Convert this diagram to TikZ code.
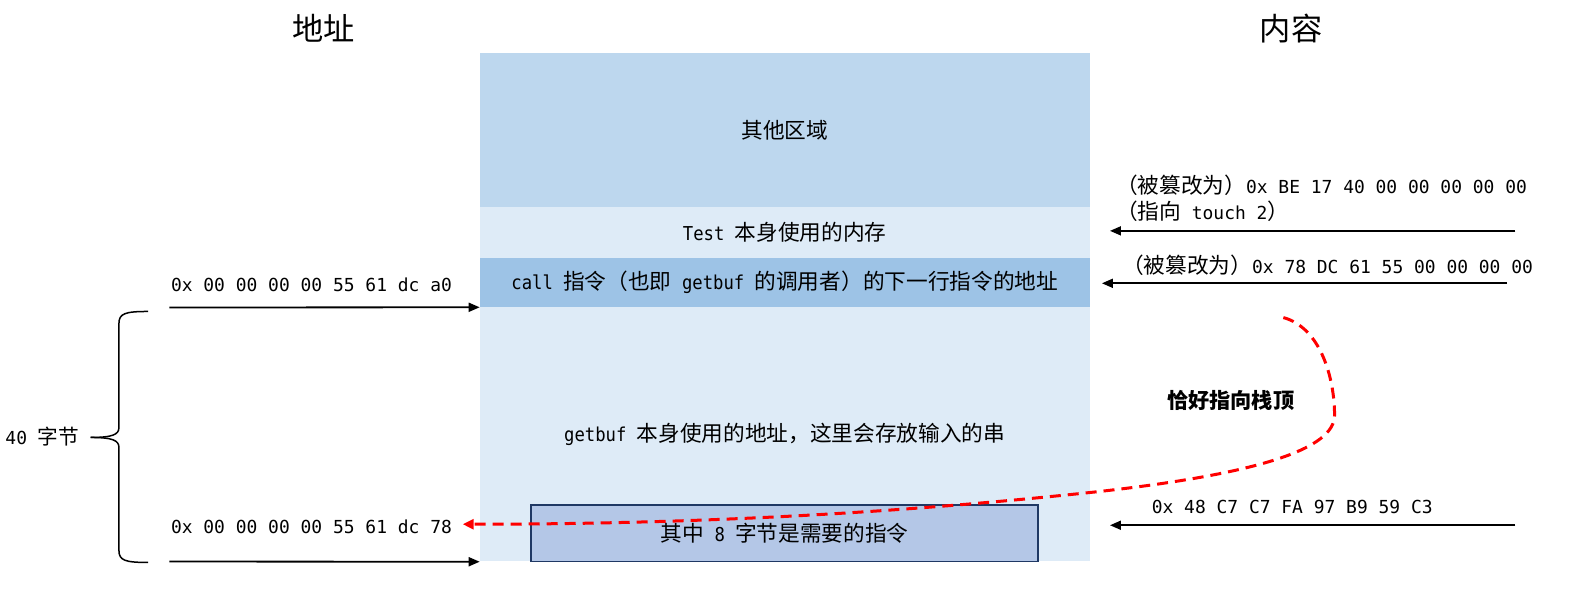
\documentclass[tikz,border=0pt]{standalone}
\usepackage{fontspec}
\setmainfont{DejaVu Sans Mono}
\newfontfamily\cjk{Noto Sans CJK SC}
\newfontfamily\cmono[FakeStretch=0.9]{DejaVu Sans Mono}
\usetikzlibrary{arrows.meta}
\newcommand\CC[1]{{\cjk\fontsize{21.5}{24}\selectfont #1}}
\definecolor{cA}{HTML}{BDD7EE}
\definecolor{cB}{HTML}{DEEBF7}
\definecolor{cC}{HTML}{9DC3E6}
\definecolor{cD}{HTML}{B4C7E7}
\definecolor{cE}{HTML}{1F3864}
\tikzset{
  region/.style={draw=none, minimum width=605pt, inner sep=0pt, font=\cmono\fontsize{19}{22}\selectfont},
  arr/.style={line width=1.8pt, -{Triangle[length=11pt,width=9pt]}},
  lab/.style={inner sep=0pt, font=\fontsize{17.8}{21}\selectfont},
  ttl/.style={inner sep=0pt, font=\cjk\fontsize{31}{34}\selectfont},
  redarr/.style={red, line width=3pt, dash pattern=on 11pt off 7pt, -{Triangle[length=11pt,width=10pt]}}
}
\begin{document}%
\begin{tikzpicture}[x=1pt,y=-1pt,scale=1.008,every node/.append style={transform shape}]%
\useasboundingbox[fill=white] (0,0) rectangle (1568.5,595.24);
% titles
\node[ttl] (t1) at (321,28) {地址};
\node[ttl] (t2) at (1281,28) {内容};
% memory regions
\node[region, fill=cA, minimum height=152pt] (r1) at (778.5,129) {\CC{其他区域}};
\node[region, fill=cB, minimum height=51pt] (r2) at (778.5,230.5) {Test \CC{本身使用的内存}};
\node[region, fill=cC, minimum height=49pt] (r3) at (778.5,280.5) {call \CC{指令（也即} getbuf \CC{的调用者）的下一行指令的地址}};
\node[region, fill=cB, minimum height=252pt] (r4) at (778.5,431) {getbuf \CC{本身使用的地址，这里会存放输入的串}};
\node[draw=cE, line width=1.5pt, fill=cD, minimum width=503pt, minimum height=56pt, inner sep=0pt, font=\cmono\fontsize{19}{22}\selectfont] (ib) at (778.5,529) {\CC{其中} 8 \CC{字节是需要的指令}};
% left addresses
\node[lab] (la) at (309,283) {0x 00 00 00 00 55 61 dc a0};
\node[lab] (lb) at (309,523) {0x 00 00 00 00 55 61 dc 78};
\coordinate (la0) at (168,305);
\coordinate (lb0) at (168,557);
\draw[arr] (la0) -- (r4.north west);
\draw[arr] (lb0) -- (r4.south west);
% brace
\draw[line width=1.5pt] (147,309) .. controls (124,309) and (118,311) .. (118,321) -- (118,424)
  .. controls (118,431) and (112,434) .. (90,434);
\draw[line width=1.5pt] (147,558) .. controls (124,558) and (118,556) .. (118,546) -- (118,444)
  .. controls (118,437) and (112,434) .. (90,434);
\node[lab] (bl) at (42,433) {40 {\cjk\fontsize{20.5}{23}\selectfont 字节}};
% right contents
\node[lab, anchor=west] (rc1) at (1107,184) {\CC{（被篡改为）}0x BE 17 40 00 00 00 00 00};
\node[lab, anchor=west] (rc1b) at (1107,210) {\CC{（指向} touch 2\CC{）}};
\node[lab, anchor=west] (rc2) at (1113,263) {\CC{（被篡改为）}0x 78 DC 61 55 00 00 00 00};
\node[lab] (rc3) at (1282,503) {0x 48 C7 C7 FA 97 B9 59 C3};
\coordinate (ra1) at (1503,229);
\coordinate (ra1e) at (1101,229);
\coordinate (ra2) at (1495,281);
\coordinate (ra2e) at (1093,281);
\coordinate (ra3) at (1503,521);
\coordinate (ra3e) at (1101,521);
\draw[arr] (ra1) -- (ra1e);
\draw[arr] (ra2) -- (ra2e);
\draw[arr] (ra3) -- (ra3e);
% red dashed pointer
\node[inner sep=0pt, font=\cjk\bfseries\fontsize{21}{24}\selectfont] (tp) at (1221,397) {恰好指向栈顶};
\coordinate (rs) at (1273,315);
\coordinate (re) at (459,520);
\draw[redarr] (rs) .. controls (1310,325) and (1324,375) .. (1324,412)
  .. controls (1324,445) and (1250,470) .. (1087,488)
  .. controls (900,508) and (700,520) .. (re);
\end{tikzpicture}%
\end{document}
